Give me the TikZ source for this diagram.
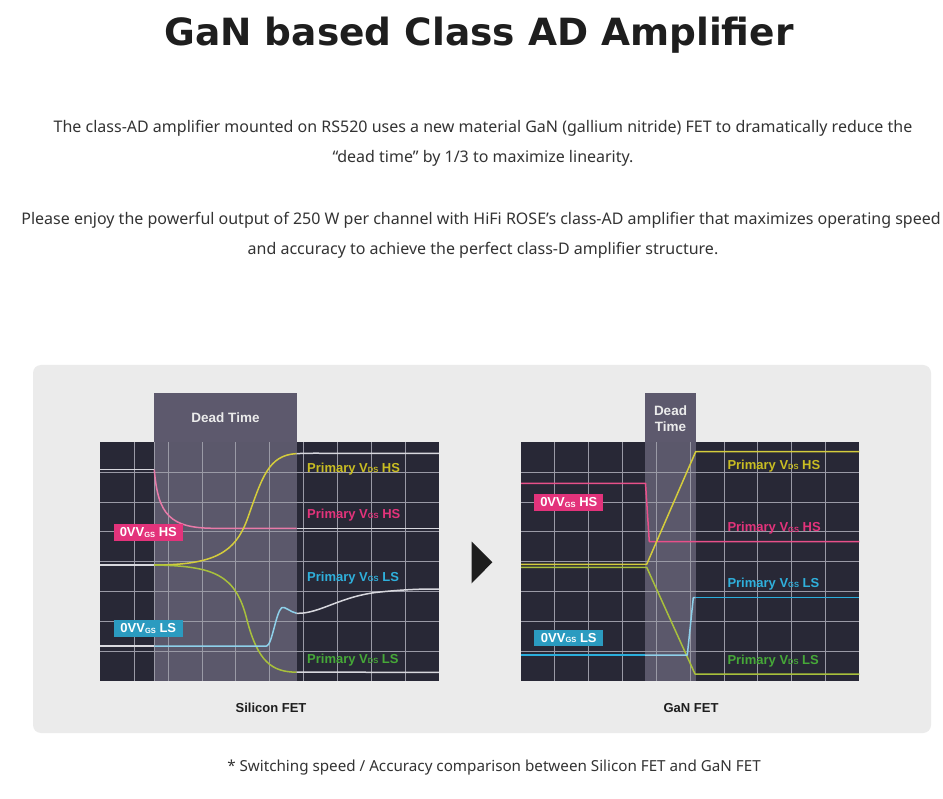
\documentclass[tikz,border=0pt]{standalone}
\usepackage{fontspec}
\setmainfont{Noto Sans}
\newfontfamily\lbold{Liberation Sans}
\newfontfamily\dvb{DejaVu Sans}
\definecolor{panelbg}{HTML}{EBEBEB}
\definecolor{chartbg}{HTML}{282836}
\definecolor{gridc}{HTML}{9A9AA6}
\definecolor{deadbox}{HTML}{5D596D}
\definecolor{shadec}{HTML}{5B586B}
\definecolor{pinkc}{HTML}{E3337B}
\definecolor{pinkline}{HTML}{E8508A}
\definecolor{pinklt}{HTML}{E87AA8}
\definecolor{blueboxc}{HTML}{2B9BC0}
\definecolor{bluetext}{HTML}{2FB0DC}
\definecolor{blueline}{HTML}{2AAEDC}
\definecolor{ltblue}{HTML}{8ED0EA}
\definecolor{yeltext}{HTML}{C9BD22}
\definecolor{yelline}{HTML}{D4CC3C}
\definecolor{grntext}{HTML}{46A838}
\definecolor{grnline}{HTML}{A8C03C}
\definecolor{whitetr}{HTML}{D8D8DE}
\definecolor{textc}{HTML}{333333}
\definecolor{titlec}{HTML}{1E1E1E}
\newcommand{\subtx}[1]{\raisebox{-0.6pt}{\fontsize{7.5}{7.5}\selectfont #1}}
\tikzset{
  gridline/.style={draw=gridc, line width=0.8pt},
  trace/.style={line width=1.5pt, line join=round},
  deadlabel/.style={text=white!92!black, font=\lbold\bfseries\fontsize{13.5}{15.5}\selectfont, align=center},
  plabel/.style={anchor=west, inner sep=0pt, font=\lbold\bfseries\fontsize{13}{13}\selectfont},
  vbox/.style={inner sep=0pt, minimum width=68.7pt, minimum height=16.7pt, text=white, font=\lbold\bfseries\fontsize{13}{13}\selectfont},
  body/.style={text=textc, font=\fontsize{16}{16}\selectfont},
  caption/.style={text=titlec, font=\lbold\bfseries\fontsize{13}{13}\selectfont}
}
\begin{document}
\begin{tikzpicture}[x=1pt,y=-1pt]
\useasboundingbox (0,0) rectangle (943,799);
\fill[white] (0,0) rectangle (943,799);
% title and text
\node[text=titlec, font=\dvb\bfseries\fontsize{37.5}{37.5}\selectfont] (title) at (479,35) {GaN based Class AD Amplifier};
\node[body] (p1a) at (483,128) {The class-AD amplifier mounted on RS520 uses a new material GaN (gallium nitride) FET to dramatically reduce the};
\node[body] (p1b) at (483,158) {“dead time” by 1/3 to maximize linearity.};
\node[body] (p2a) at (481,220) {Please enjoy the powerful output of 250 W per channel with HiFi ROSE’s class-AD amplifier that maximizes operating speed};
\node[body] (p2b) at (483,250) {and accuracy to achieve the perfect class-D amplifier structure.};
% panel
\fill[panelbg, rounded corners=8pt] (33,365) rectangle (931,733);
% ===== left chart =====
\fill[chartbg] (100.3,442.3) rectangle (439,681);
\fill[shadec] (154.3,442.3) rectangle (296.7,681);
\foreach \k in {1,...,9} \draw[gridline] ({100.3+33.87*\k},442.3) -- ++(0,238.7);
\foreach \k in {1,...,7} \draw[gridline] (100.3,{442.3+29.84*\k}) -- ++(338.7,0);
\draw[gridline] (154.3,442.3) -- (154.3,681);
% traces
\draw[trace, whitetr] (100.3,469.7) -- (154.3,469.7);
\draw[trace, pinklt] (154.3,469.7) .. controls (158,515) and (170,528.3) .. (215,528.3) -- (296.7,528.3);
\draw[trace, whitetr] (296.7,528.3) -- (439,528.3);
\draw[trace, whitetr] (100.3,565) -- (154.3,565);
\draw[trace, yelline] (154.3,565) .. controls (215,565) and (235,552) .. (247,520) .. controls (262,478) and (268,455) .. (296.7,453.6);
\draw[trace, whitetr] (296.7,453.6) .. controls (310,453.2) .. (330,453.3) -- (439,453.3);
\draw[trace, grnline] (154.3,565) .. controls (215,566) and (236,575) .. (247,620) .. controls (258,662) and (272,672) .. (296.7,672.2);
\draw[trace, whitetr] (296.7,672.2) -- (439,672.3);
\draw[trace, whitetr] (100.3,646) -- (154.3,646);
\draw[trace, ltblue] (154.3,646) -- (266.7,646) .. controls (272,645) and (276,612) .. (281.7,607.7) .. controls (285,606) and (290,612) .. (296.7,613.3);
\draw[trace, whitetr] (296.7,613.3) .. controls (320,614) and (340,596) .. (380,592) .. controls (410,589) and (425,589) .. (439,589);
% dead time box
\fill[deadbox] (154.3,393.3) rectangle (296.7,442.3);
\node[deadlabel] (dtl) at (225.5,418) {Dead Time};
% labels
\node[vbox, fill=pinkc] (lhs) at (148.3,532.5) {0VV\subtx{GS} HS};
\node[vbox, fill=blueboxc] (lls) at (148.3,628.3) {0VV\subtx{GS} LS};
\node[plabel, text=yeltext] (l1) at (307,469) {Primary V\subtx{DS} HS};
\node[plabel, text=pinkc] (l2) at (307,515) {Primary V\subtx{GS} HS};
\node[plabel, text=bluetext] (l3) at (307,577.7) {Primary V\subtx{GS} LS};
\node[plabel, text=grntext] (l4) at (307,660) {Primary V\subtx{DS} LS};
\node[caption] (capl) at (271,708) {Silicon FET};
% arrow
\fill[titlec] (471.7,541.7) -- (492.3,562.3) -- (471.7,583.3) -- cycle;
% ===== right chart =====
\fill[chartbg] (521,442.3) rectangle (859.3,681);
\fill[shadec] (645,442.3) rectangle (695.7,681);
\foreach \k in {1,...,9} \draw[gridline] ({521+33.83*\k},442.3) -- ++(0,238.7);
\foreach \k in {1,...,7} \draw[gridline] (521,{442.3+29.84*\k}) -- ++(338.3,0);
\draw[gridline] (690,442.3) -- (690,681);
\draw[trace, pinkline] (521,483.3) -- (645.5,483.3) -- (649.3,541.7) -- (859.3,541.7);
\draw[trace, grnline] (521,567.3) -- (646.7,567.3) -- (695,674) -- (859.3,674);
\draw[trace, yelline] (521,564.3) -- (646.7,564.3) -- (695.7,451.7) -- (859.3,451.7);
\draw[trace, blueline] (521,655) -- (645,655);
\draw[trace, ltblue] (645,655) -- (687.3,655) -- (693.3,597.7) -- (695.7,597.7);
\draw[trace, blueline] (695.7,597.7) -- (859.3,597.7);
\fill[deadbox] (645,393.3) rectangle (695.7,442.3);
\node[deadlabel] (dtr) at (670.5,418.5) {Dead\\Time};
\node[vbox, fill=pinkc] (rhs) at (568.8,502.3) {0VV\subtx{GS} HS};
\node[vbox, fill=blueboxc] (rls) at (568.8,638) {0VV\subtx{GS} LS};
\node[plabel, text=yeltext] (r1) at (727.3,466) {Primary V\subtx{DS} HS};
\node[plabel, text=pinkc] (r2) at (727.3,528.3) {Primary V\subtx{GS} HS};
\node[plabel, text=bluetext] (r3) at (727.3,584) {Primary V\subtx{GS} LS};
\node[plabel, text=grntext] (r4) at (727.3,660.7) {Primary V\subtx{DS} LS};
\node[caption] (capr) at (691,708) {GaN FET};
% footnote
\node[body, font=\fontsize{15.2}{15.2}\selectfont] (foot) at (494,768) {* Switching speed / Accuracy comparison between Silicon FET and GaN FET};
\end{tikzpicture}
\end{document}
